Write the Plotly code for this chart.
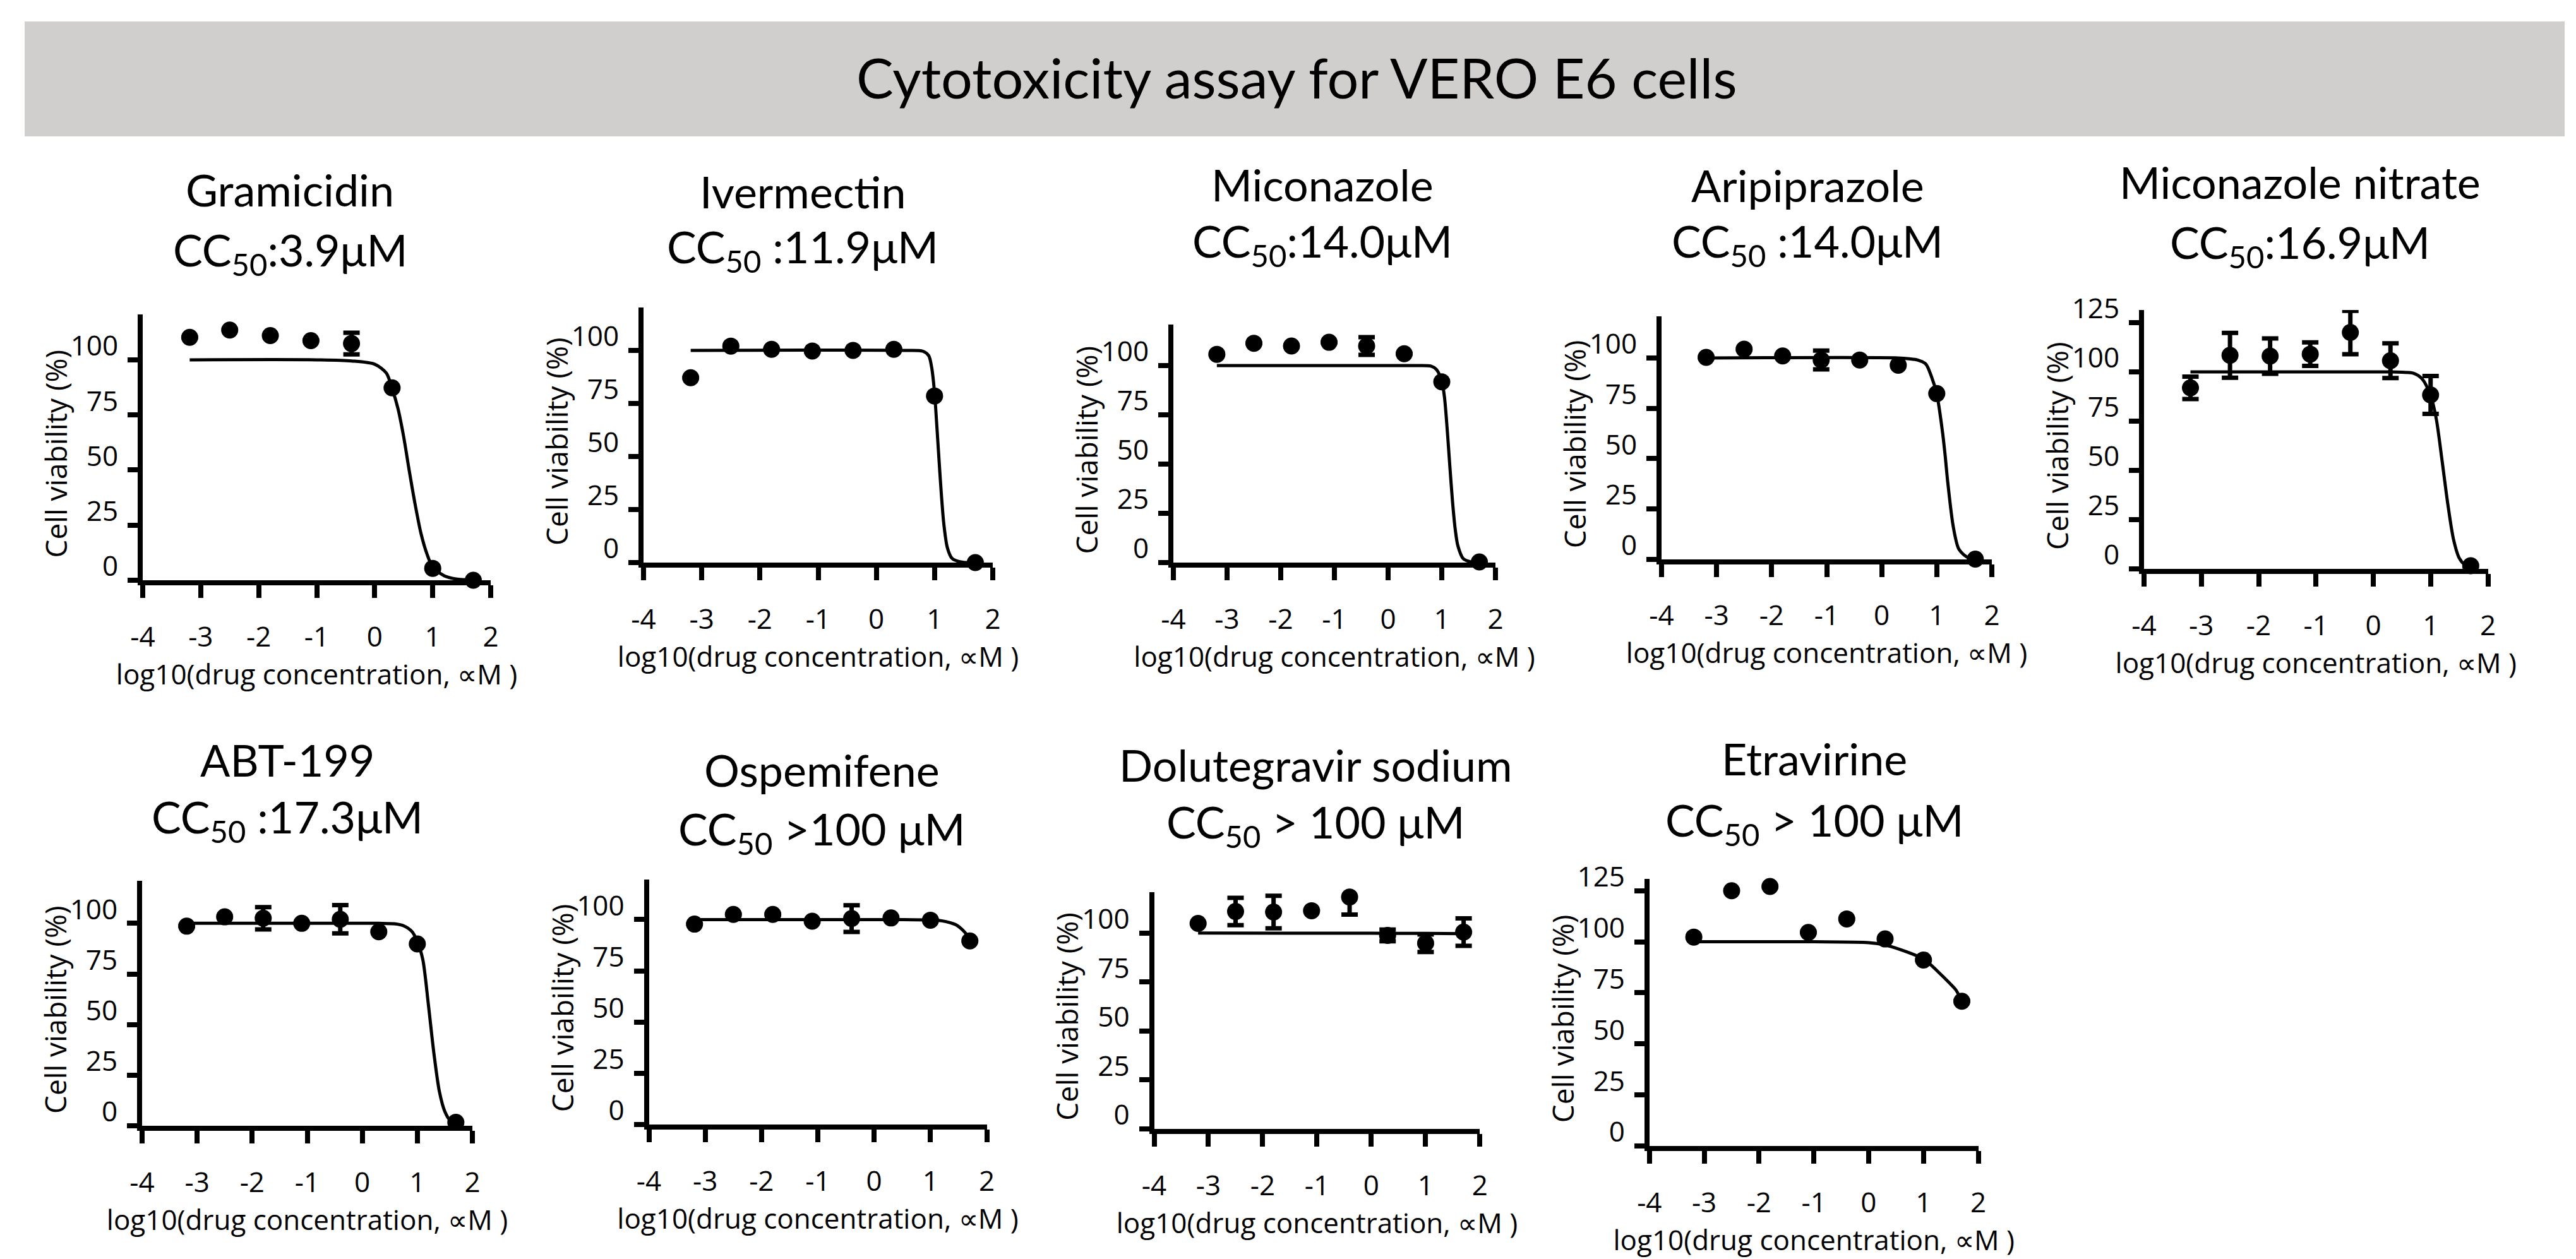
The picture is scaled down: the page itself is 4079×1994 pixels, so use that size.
import plotly.graph_objects as go

W, H = 4079, 1994

# log10 of the tested concentrations (µM), same 8 doses for every drug
X_CONC = [-3.19, -2.5, -1.8, -1.1, -0.4, 0.3, 1.0, 1.7]
X_TICKS = [-4, -3, -2, -1, 0, 1, 2]
X_TICK_TEXT = ["-4", "-3", "-2", "-1", "0", "1", "2"]

DRUGS = ["Gramicidin", "Ivermectin", "Miconazole", "Aripiprazole", "Miconazole nitrate",
         "ABT-199", "Ospemifene", "Dolutegravir sodium", "Etravirine"]
CC50_TEXT = ["CC<sub>50</sub>:3.9μM", "CC<sub>50</sub> :11.9μM", "CC<sub>50</sub>:14.0μM",
             "CC<sub>50</sub> :14.0μM", "CC<sub>50</sub>:16.9μM", "CC<sub>50</sub> :17.3μM",
             "CC<sub>50</sub> >100 μM", "CC<sub>50</sub> > 100 μM", "CC<sub>50</sub> > 100 μM"]

# measured viability (%) and error bars (None = no visible bar)
gramicidin_y = [110.2, 113.5, 111.0, 108.7, 107.4, 87.3, 5.4, 0.0]
gramicidin_err = [None, None, None, None, 4.9, None, None, None]
ivermectin_y = [87.1, 102.0, 100.5, 99.7, 100.0, 100.5, 78.5, 0.0]
ivermectin_err = [None] * 8
miconazole_y = [105.7, 111.3, 109.9, 111.8, 109.9, 106.0, 91.7, 0.3]
miconazole_err = [None, None, None, None, 4.5, None, None, None]
aripiprazole_y = [100.3, 104.4, 101.0, 99.0, 99.0, 96.4, 82.3, 0.0]
aripiprazole_err = [None, None, None, 4.7, None, None, None, None]
mic_nitrate_y = [91.9, 108.4, 108.0, 109.0, 120.0, 105.7, 88.3, 1.6]
mic_nitrate_err = [5.7, 11.4, 9.0, 6.0, 11.0, 8.8, 9.6, None]
abt199_y = [98.6, 103.2, 102.5, 100.0, 102.0, 95.8, 89.8, 1.7]
abt199_err = [None, None, 5.5, None, 7.0, None, None, None]
ospemifene_y = [97.8, 102.5, 102.5, 99.2, 100.5, 100.8, 99.7, 89.6]
ospemifene_err = [None, None, None, None, 6.5, None, None, None]
dolutegravir_y = [104.9, 111.0, 110.7, 111.4, 118.4, 98.8, 94.8, 100.5]
dolutegravir_err = [None, 7.0, 8.3, None, 9.0, 3.0, 4.5, 7.0]
etravirine_y = [102.3, 125.0, 127.1, 104.6, 111.2, 101.4, 91.1, 70.9]
etravirine_err = [None] * 8

# fitted dose-response curves
gramicidin_fit_x = [-3.19, -1.0, -0.4, 0.0, 0.2, 0.3, 0.4, 0.5, 0.6, 0.7, 0.8, 0.9, 1.0, 1.2, 1.4, 1.7]
gramicidin_fit_y = [100, 100, 99.5, 98, 94, 87, 78, 65, 49, 34, 21, 12, 6, 2, 0.6, 0.1]
ivermectin_fit_x = [-3.19, 0.5, 0.8, 0.9, 0.95, 1.0, 1.04, 1.08, 1.12, 1.16, 1.22, 1.3, 1.45, 1.7]
ivermectin_fit_y = [100, 100, 99.6, 97.5, 92, 80, 64, 47, 31, 18, 7, 2, 0.3, 0]
miconazole_fit_x = [-3.19, 0.5, 0.8, 0.9, 1.0, 1.05, 1.1, 1.15, 1.2, 1.25, 1.3, 1.4, 1.55, 1.7]
miconazole_fit_y = [100, 100, 99.7, 98, 92, 84, 68, 49, 31, 17, 8.5, 2, 0.3, 0]
aripiprazole_fit_x = [-3.19, 0.3, 0.5, 0.65, 0.8, 0.9, 1.0, 1.1, 1.15, 1.2, 1.3, 1.4, 1.55, 1.7]
aripiprazole_fit_y = [100, 100, 99.6, 99, 97, 91, 82, 64, 52, 38, 16, 5, 1, 0.3]
mic_nitrate_fit_x = [-3.19, 0.3, 0.5, 0.7, 0.85, 1.0, 1.1, 1.2, 1.3, 1.4, 1.5, 1.6, 1.7]
mic_nitrate_fit_y = [100, 100, 99.8, 99.3, 96.5, 88, 76, 55, 33, 15, 5.5, 2, 0.8]
abt199_fit_x = [-3.19, 0.3, 0.6, 0.75, 0.9, 1.0, 1.1, 1.2, 1.3, 1.4, 1.5, 1.6, 1.72]
abt199_fit_y = [100, 100, 99.7, 98.8, 96, 91, 82, 60, 36, 17, 7, 2.5, 0.8]
ospemifene_fit_x = [-3.19, 0.5, 1.0, 1.2, 1.35, 1.45, 1.55, 1.62, 1.7]
ospemifene_fit_y = [100, 100, 99.8, 99.4, 98.5, 97.5, 95.5, 93.5, 90.5]
dolutegravir_fit_x = [-3.19, 0.0, 1.0, 1.7]
dolutegravir_fit_y = [100, 99.9, 99.8, 99.7]
etravirine_fit_x = [-3.19, -1.0, 0.0, 0.27, 0.6, 0.93, 1.1, 1.26, 1.45, 1.59, 1.7]
etravirine_fit_y = [100, 100, 99.6, 98.6, 96, 92.5, 89.5, 85.5, 80.5, 76.5, 71]

VIAB = [gramicidin_y, ivermectin_y, miconazole_y, aripiprazole_y, mic_nitrate_y,
        abt199_y, ospemifene_y, dolutegravir_y, etravirine_y]
ERRS = [gramicidin_err, ivermectin_err, miconazole_err, aripiprazole_err, mic_nitrate_err,
        abt199_err, ospemifene_err, dolutegravir_err, etravirine_err]
FITS = [(gramicidin_fit_x, gramicidin_fit_y), (ivermectin_fit_x, ivermectin_fit_y),
        (miconazole_fit_x, miconazole_fit_y), (aripiprazole_fit_x, aripiprazole_fit_y),
        (mic_nitrate_fit_x, mic_nitrate_fit_y), (abt199_fit_x, abt199_fit_y),
        (ospemifene_fit_x, ospemifene_fit_y), (dolutegravir_fit_x, dolutegravir_fit_y),
        (etravirine_fit_x, etravirine_fit_y)]

# panel geometry in pixels: left, right, top, bottom of the axes, y-range top, has 125 tick
BOXES = [
    (218, 769, 490, 911, 120.6, False),
    (1011, 1564, 479, 883, 120.2, False),
    (1850, 2360, 506, 883, 120.8, False),
    (2623, 3146, 493, 877.5, 120.7, False),
    (3387, 3931.5, 483, 893, 131.4, True),
    (217, 740, 1387, 1775, 121.0, False),
    (1019.5, 1554.5, 1384.5, 1773, 119.7, False),
    (1819.5, 2335.4, 1404.6, 1780, 121.0, False),
    (2603.8, 3124.5, 1384, 1807, 130.8, True),
]
# title positions: centre x, name line y, CC50 line y
TITLE_POS = [(451, 292, 392), (1263, 295, 387), (2086, 284, 378), (2854, 285, 378),
             (3634, 280, 380), (447, 1195, 1290), (1293, 1211, 1309), (2075, 1203, 1298),
             (2865, 1193, 1295)]

FONT = "Lato"
AXIS_FONT = "Open Sans"


def px(x):
    return x / W


def py(y):
    return 1 - y / H


fig = go.Figure()
layout = dict(
    width=W, height=H,
    margin=dict(l=0, r=0, t=0, b=0),
    paper_bgcolor="white", plot_bgcolor="white",
    showlegend=False,
    font=dict(family=FONT, color="black"),
)
annotations = []

for i in range(9):
    n = i + 1
    l, r, t, b, ytop, tall = BOXES[i]
    fx, fy = FITS[i]
    fig.add_trace(go.Scatter(
        x=fx, y=fy, mode="lines",
        line=dict(color="black", width=5, shape="spline", smoothing=0.8),
        xaxis=f"x{n}", yaxis=f"y{n}", hoverinfo="skip",
    ))
    fig.add_trace(go.Scatter(
        x=X_CONC, y=VIAB[i], mode="markers",
        marker=dict(color="black", size=27),
        error_y=dict(type="data", array=ERRS[i], color="black", thickness=7, width=13),
        xaxis=f"x{n}", yaxis=f"y{n}", cliponaxis=False,
    ))
    axis_common = dict(
        showline=True, linewidth=8, linecolor="black",
        ticks="outside", tickwidth=8, tickcolor="black",
        showgrid=False, zeroline=False, automargin=False,
        tickfont=dict(family=AXIS_FONT, size=44, color="black"),
    )
    layout[f"xaxis{n}"] = dict(
        axis_common, domain=[px(l), px(r)], range=[-4, 2], anchor=f"y{n}",
        tickvals=X_TICKS, ticktext=X_TICK_TEXT, ticklen=20,
        ticklabelstandoff=24,
        title=dict(text="log10(drug concentration, ∝M )",
                   font=dict(family=AXIS_FONT, size=44, color="black"), standoff=12),
    )
    yt = [0, 25, 50, 75, 100, 125] if tall else [0, 25, 50, 75, 100]
    layout[f"yaxis{n}"] = dict(
        axis_common, domain=[py(b), py(t)], range=[0, ytop], anchor=f"x{n}",
        tickvals=yt, ticklen=16, ticklabelshift=-22, ticklabelstandoff=6,
    )
    # rotated y-axis title placed beside the axis, overlapping the labels as in the source
    annotations.append(dict(x=px(l - 138), y=py((t + b) / 2 + 10), xref="paper", yref="paper",
                            text="Cell viability (%)", textangle=-90, showarrow=False,
                            xanchor="center", yanchor="middle",
                            font=dict(family=AXIS_FONT, size=46, color="black")))
    cx, y1, y2 = TITLE_POS[i]
    annotations.append(dict(x=px(cx), y=py(y1), xref="paper", yref="paper",
                            text=DRUGS[i], showarrow=False, xanchor="center", yanchor="middle",
                            font=dict(family=FONT, size=70, color="black")))
    annotations.append(dict(x=px(cx), y=py(y2), xref="paper", yref="paper",
                            text=CC50_TEXT[i], showarrow=False, xanchor="center", yanchor="middle",
                            font=dict(family=FONT, size=70, color="black")))

annotations.append(dict(x=px(2045), y=py(114), xref="paper", yref="paper",
                        text="Cytotoxicity assay for VERO E6 cells", showarrow=False,
                        xanchor="center", yanchor="middle",
                        font=dict(family=FONT, size=88, color="black")))

layout["annotations"] = annotations
layout["shapes"] = [dict(type="rect", xref="paper", yref="paper",
                         x0=px(31), x1=px(4053), y0=py(208), y1=py(26),
                         fillcolor="#d0cfcd", line=dict(width=0), layer="below")]

fig.update_layout(layout)
fig.write_html("out.html")
